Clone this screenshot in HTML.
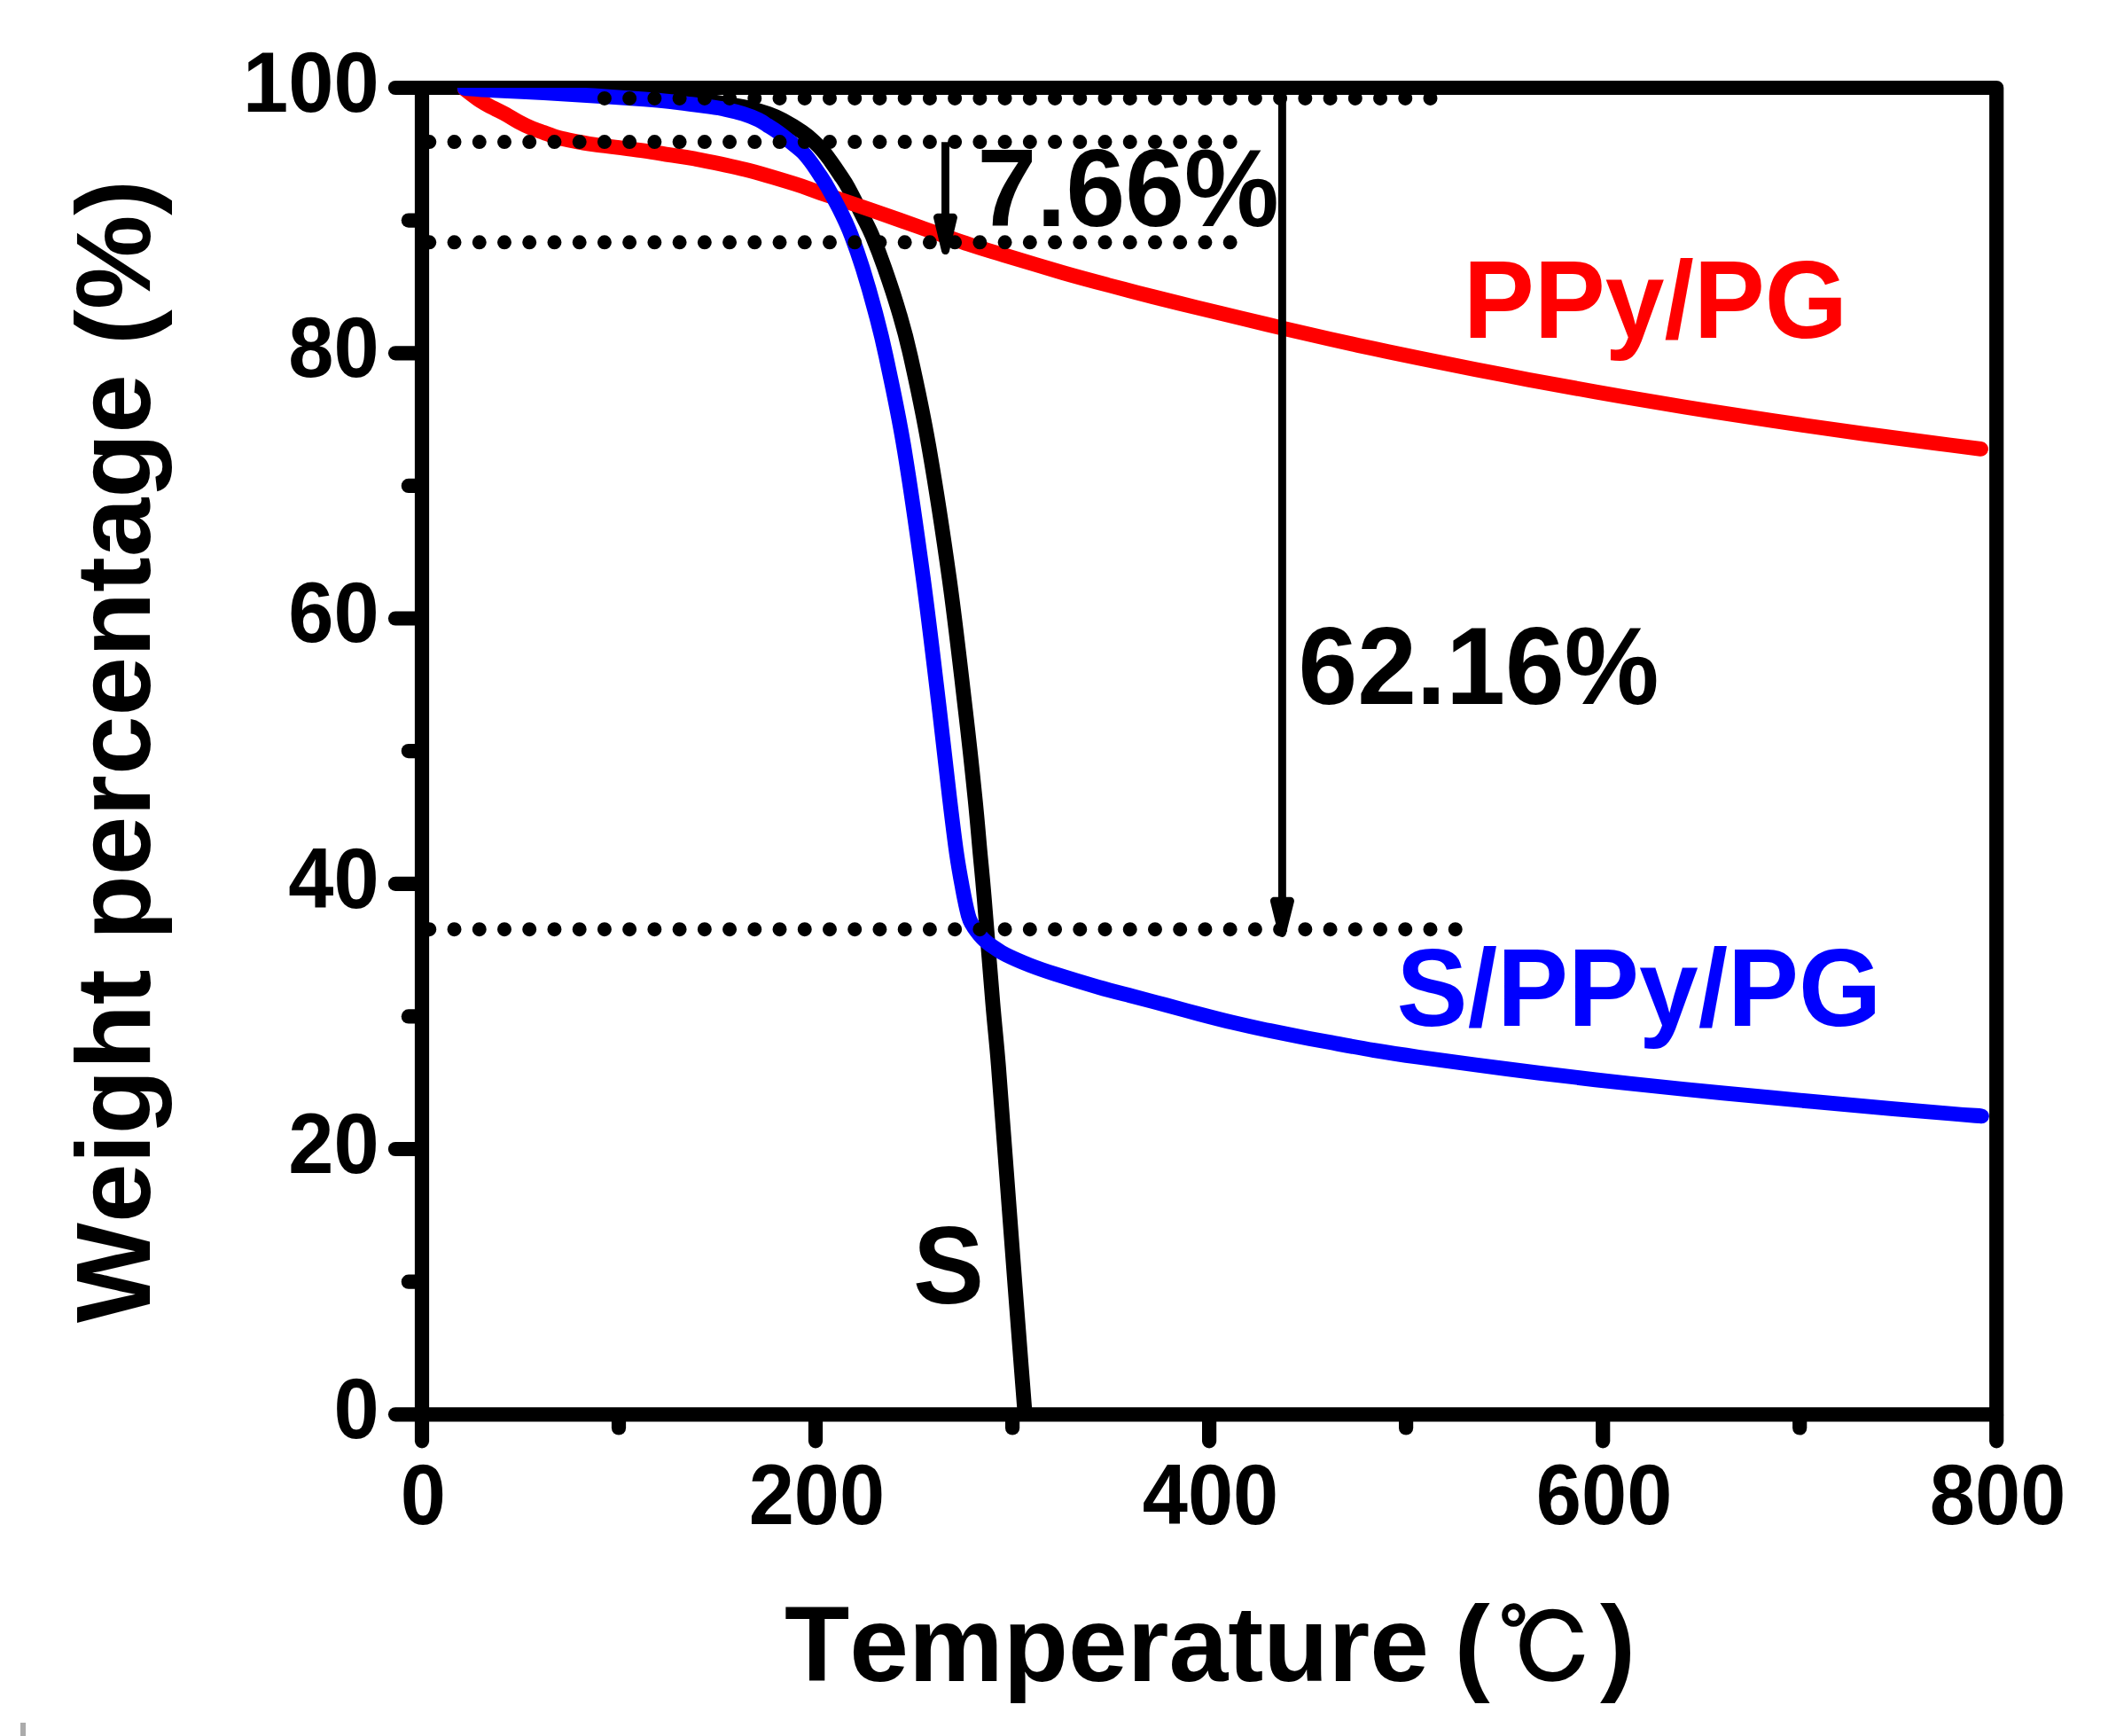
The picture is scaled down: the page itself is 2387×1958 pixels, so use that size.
<!DOCTYPE html>
<html lang="en">
<head>
<meta charset="utf-8">
<title>TGA curves</title>
<style>
html,body{margin:0;padding:0;background:#fff;}
body{width:2387px;height:1958px;overflow:hidden;}
svg{display:block;}
text{font-family:"Liberation Sans","Noto Serif CJK SC",sans-serif;font-weight:bold;font-kerning:none;}
.tk{font-size:92px;fill:#000;}
.big{font-size:120px;}
.ax{stroke:#000;stroke-width:16.2;stroke-linecap:round;fill:none;}
.cv{fill:none;stroke-width:16.8;stroke-linecap:round;stroke-linejoin:round;}
.dot{stroke:#000;stroke-width:16;stroke-linecap:round;stroke-dasharray:0 28.23;fill:none;}
.cjk{font-family:"IPAGothic","Noto Sans CJK JP",sans-serif;font-weight:normal;font-size:108px;stroke:#000;stroke-width:2.2px;}
</style>
</head>
<body>
<svg width="2387" height="1958" viewBox="0 0 2387 1958">
<rect x="0" y="0" width="2387" height="1958" fill="#fff"/>
<defs><clipPath id="plot"><rect x="476.0" y="99.0" width="1776.2" height="1496.3"/></clipPath></defs>

<g id="axes">
<rect x="476.0" y="99.0" width="1776.2" height="1496.3" class="ax" stroke-linejoin="round"/>
<line x1="446.0" y1="1595.3" x2="475.0" y2="1595.3" class="ax"/>
<line x1="460.8" y1="1445.7" x2="475.0" y2="1445.7" class="ax"/>
<line x1="446.0" y1="1296.0" x2="475.0" y2="1296.0" class="ax"/>
<line x1="460.8" y1="1146.4" x2="475.0" y2="1146.4" class="ax"/>
<line x1="446.0" y1="996.8" x2="475.0" y2="996.8" class="ax"/>
<line x1="460.8" y1="847.1" x2="475.0" y2="847.1" class="ax"/>
<line x1="446.0" y1="697.5" x2="475.0" y2="697.5" class="ax"/>
<line x1="460.8" y1="547.9" x2="475.0" y2="547.9" class="ax"/>
<line x1="446.0" y1="398.3" x2="475.0" y2="398.3" class="ax"/>
<line x1="460.8" y1="248.6" x2="475.0" y2="248.6" class="ax"/>
<line x1="446.0" y1="99.0" x2="475.0" y2="99.0" class="ax"/>
<line x1="476.0" y1="1596.3" x2="476.0" y2="1625.3" class="ax"/>
<line x1="698.0" y1="1596.3" x2="698.0" y2="1610.5" class="ax"/>
<line x1="920.0" y1="1596.3" x2="920.0" y2="1625.3" class="ax"/>
<line x1="1142.1" y1="1596.3" x2="1142.1" y2="1610.5" class="ax"/>
<line x1="1364.1" y1="1596.3" x2="1364.1" y2="1625.3" class="ax"/>
<line x1="1586.1" y1="1596.3" x2="1586.1" y2="1610.5" class="ax"/>
<line x1="1808.2" y1="1596.3" x2="1808.2" y2="1625.3" class="ax"/>
<line x1="2030.2" y1="1596.3" x2="2030.2" y2="1610.5" class="ax"/>
<line x1="2252.2" y1="1596.3" x2="2252.2" y2="1625.3" class="ax"/>
</g>
<g clip-path="url(#plot)">
<path class="cv" stroke="#000" d="M524.3 99.5C553.6 99.7 660.7 99.0 700.0 100.5C739.3 102.0 745.0 106.4 760.0 108.5C775.0 110.6 781.8 111.8 790.0 113.0C798.2 114.2 802.9 114.7 809.2 115.6C815.5 116.5 821.8 117.5 827.6 118.5C833.4 119.5 837.3 119.9 843.9 121.6C850.5 123.3 860.5 126.2 867.0 128.5C873.5 130.8 876.5 132.1 882.9 135.5C889.3 138.9 899.4 145.0 905.2 149.0C911.1 153.0 914.0 155.8 918.0 159.5C922.0 163.2 925.7 167.2 928.9 171.0C932.1 174.8 934.1 177.7 937.2 182.0C940.3 186.3 944.2 192.0 947.5 197.0C950.8 202.0 952.9 204.5 957.0 212.0C961.1 219.5 967.8 233.0 972.3 242.0C976.8 251.0 979.8 256.0 984.0 266.0C988.2 276.0 992.8 287.7 997.8 302.0C1002.8 316.3 1009.2 335.3 1014.1 352.0C1019.0 368.7 1021.6 377.0 1027.2 402.0C1032.8 427.0 1040.2 460.3 1047.5 502.0C1054.8 543.7 1063.8 602.0 1070.8 652.0C1077.8 702.0 1084.3 760.3 1089.2 802.0C1094.1 843.7 1097.4 875.3 1100.1 902.0C1102.8 928.7 1103.9 943.7 1105.6 962.0C1107.3 980.3 1107.8 983.8 1110.2 1012.0C1112.6 1040.2 1117.2 1099.5 1119.9 1131.2C1122.6 1162.9 1124.0 1173.2 1126.3 1202.0C1128.6 1230.8 1130.9 1262.5 1134.0 1304.0C1137.1 1345.5 1142.1 1411.5 1145.1 1451.2C1148.1 1490.9 1150.3 1519.2 1152.1 1542.0C1153.9 1564.8 1154.9 1577.3 1155.7 1588.0C1156.5 1598.7 1156.9 1603.0 1157.1 1606.0"/>
<path class="cv" stroke="#f00" d="M524.3 100.5C527.3 102.8 537.1 110.5 542.5 114.1C547.9 117.7 552.0 119.4 556.7 121.9C561.4 124.4 566.2 126.6 570.9 129.2C575.6 131.8 580.4 135.0 585.1 137.5C589.8 140.0 594.5 142.3 599.2 144.3C603.9 146.3 608.7 147.8 613.4 149.5C618.1 151.2 622.9 153.2 627.6 154.6C632.3 156.0 634.7 156.5 641.8 157.9C648.9 159.3 660.6 161.6 670.1 163.0C679.6 164.4 689.0 165.3 698.5 166.5C708.0 167.7 717.4 168.8 726.9 170.1C736.4 171.4 745.8 173.1 755.2 174.6C764.7 176.1 769.4 176.3 783.6 179.1C797.8 181.9 821.4 186.4 840.3 191.2C859.2 195.9 882.8 203.2 897.0 207.6C911.2 212.0 911.1 212.7 925.3 217.5C939.5 222.3 963.1 230.1 982.0 236.6C1000.9 243.1 1019.8 250.0 1038.7 256.6C1057.6 263.2 1079.9 271.2 1095.5 276.4C1111.1 281.6 1114.9 282.4 1132.3 287.6C1149.7 292.9 1180.4 302.2 1200.0 307.9C1219.6 313.5 1233.3 317.1 1250.0 321.5C1266.7 325.9 1283.3 330.3 1300.0 334.5C1316.7 338.7 1333.3 342.8 1350.0 346.8C1366.7 350.9 1383.3 354.8 1400.0 358.8C1416.7 362.8 1433.3 366.9 1450.0 370.8C1466.7 374.7 1483.3 378.6 1500.0 382.4C1516.7 386.1 1533.3 389.8 1550.0 393.3C1566.7 396.9 1575.0 398.6 1600.0 403.7C1625.0 408.8 1666.7 417.2 1700.0 423.6C1733.3 430.0 1766.7 436.1 1800.0 442.0C1833.3 447.9 1866.7 453.6 1900.0 459.0C1933.3 464.4 1966.7 469.5 2000.0 474.5C2033.3 479.5 2066.7 484.3 2100.0 488.9C2133.3 493.5 2177.6 499.1 2200.0 502.0C2222.4 504.9 2228.8 505.7 2234.5 506.4"/>
<path class="cv" stroke="#00f" d="M524.3 99.7C529.7 100.1 541.9 101.1 556.7 101.9C571.6 102.7 594.5 103.7 613.4 104.7C632.3 105.7 651.2 106.8 670.1 108.0C689.0 109.2 712.4 110.7 726.8 111.8C741.2 112.9 747.8 113.6 756.7 114.6C765.6 115.6 772.8 116.8 780.0 117.7C787.2 118.7 793.7 119.4 800.0 120.3C806.3 121.2 811.5 121.9 817.8 123.2C824.1 124.5 831.7 126.3 838.0 128.3C844.3 130.3 850.9 132.9 855.6 135.1C860.3 137.3 862.3 139.2 866.0 141.5C869.7 143.8 873.4 146.0 877.6 149.0C881.8 152.0 886.5 155.8 891.0 159.5C895.5 163.2 901.0 167.2 904.9 171.0C908.8 174.8 910.8 177.5 914.2 182.0C917.6 186.5 921.9 193.0 925.2 198.0C928.5 203.0 929.9 204.7 934.0 212.0C938.1 219.3 945.6 233.0 950.0 242.0C954.4 251.0 956.7 256.0 960.5 266.0C964.3 276.0 968.5 287.7 973.0 302.0C977.5 316.3 983.0 335.3 987.4 352.0C991.8 368.7 994.2 377.0 999.5 402.0C1004.8 427.0 1012.3 460.3 1019.3 502.0C1026.3 543.7 1034.6 602.0 1041.4 652.0C1048.2 702.0 1054.9 760.3 1059.9 802.0C1064.9 843.7 1068.2 875.3 1071.4 902.0C1074.6 928.7 1076.6 945.2 1079.0 962.0C1081.4 978.8 1083.7 990.8 1085.9 1002.6C1088.1 1014.4 1090.6 1026.1 1092.4 1032.8C1094.2 1039.5 1095.2 1040.0 1096.8 1042.9C1098.4 1045.8 1099.9 1047.9 1101.8 1050.4C1103.7 1053.0 1106.2 1056.0 1108.3 1058.2C1110.4 1060.4 1112.4 1062.1 1114.6 1063.8C1116.8 1065.5 1117.9 1066.2 1121.2 1068.4C1124.5 1070.6 1127.8 1073.4 1134.6 1076.8C1141.4 1080.2 1152.8 1085.2 1162.0 1088.8C1171.2 1092.4 1177.3 1094.5 1190.1 1098.6C1202.9 1102.7 1224.5 1109.2 1239.0 1113.3C1253.5 1117.4 1266.6 1120.7 1276.8 1123.4C1287.0 1126.1 1293.7 1127.8 1300.0 1129.5C1306.3 1131.2 1306.0 1131.1 1314.7 1133.4C1323.5 1135.8 1339.9 1140.3 1352.5 1143.6C1365.1 1146.9 1377.7 1150.2 1390.3 1153.2C1402.9 1156.2 1415.6 1159.0 1428.1 1161.6C1440.5 1164.2 1453.0 1166.7 1465.0 1169.0C1477.0 1171.3 1485.8 1173.0 1500.0 1175.6C1514.2 1178.2 1533.3 1181.8 1550.0 1184.6C1566.7 1187.4 1575.0 1188.7 1600.0 1192.2C1625.0 1195.7 1666.7 1201.3 1700.0 1205.6C1733.3 1209.9 1766.7 1214.0 1800.0 1217.8C1833.3 1221.6 1866.7 1225.1 1900.0 1228.5C1933.3 1231.9 1966.7 1235.0 2000.0 1238.2C2033.3 1241.4 2066.7 1244.4 2100.0 1247.4C2133.3 1250.4 2177.4 1254.1 2200.0 1256.0C2222.6 1257.9 2229.6 1258.3 2235.5 1258.8"/>
</g>
<g id="dots">
<line x1="681.91" y1="110.9" x2="1614.00" y2="110.9" class="dot"/>
<line x1="484.30" y1="160.1" x2="1388.16" y2="160.1" class="dot"/>
<line x1="484.30" y1="273.3" x2="1388.16" y2="273.3" class="dot"/>
<line x1="484.30" y1="1048.2" x2="1642.23" y2="1048.2" class="dot"/>
</g>
<g id="arrows">
<line x1="1066.5" y1="160.2" x2="1066.5" y2="245.3" stroke="#000" stroke-width="8.9"/><path d="M1057.5 245.3 L1075.5 245.3 L1066.5 282.6 Z" fill="#000" stroke="#000" stroke-width="8.9" stroke-linejoin="round"/>
<line x1="1446.4" y1="108.0" x2="1446.4" y2="1016.1" stroke="#000" stroke-width="8.9"/><path d="M1437.4 1016.1 L1455.5 1016.1 L1446.4 1052.5 Z" fill="#000" stroke="#000" stroke-width="8.9" stroke-linejoin="round"/>
</g>
<g id="ylabels">
<text class="tk" transform="translate(427.6 1622.0) scale(1 1.040)" fill="#000" text-anchor="end">0</text>
<text class="tk" transform="translate(427.6 1322.7) scale(1 1.040)" fill="#000" text-anchor="end">20</text>
<text class="tk" transform="translate(427.6 1023.5) scale(1 1.040)" fill="#000" text-anchor="end">40</text>
<text class="tk" transform="translate(427.6 724.2) scale(1 1.040)" fill="#000" text-anchor="end">60</text>
<text class="tk" transform="translate(427.6 425.0) scale(1 1.040)" fill="#000" text-anchor="end">80</text>
<text class="tk" transform="translate(427.6 125.7) scale(1 1.040)" fill="#000" text-anchor="end">100</text>
</g>
<g id="xlabels">
<text class="tk" transform="translate(477.4 1719.2) scale(1 1.040)" fill="#000" text-anchor="middle">0</text>
<text class="tk" transform="translate(921.4 1719.2) scale(1 1.040)" fill="#000" text-anchor="middle">200</text>
<text class="tk" transform="translate(1365.5 1719.2) scale(1 1.040)" fill="#000" text-anchor="middle">400</text>
<text class="tk" transform="translate(1809.6 1719.2) scale(1 1.040)" fill="#000" text-anchor="middle">600</text>
<text class="tk" transform="translate(2253.6 1719.2) scale(1 1.040)" fill="#000" text-anchor="middle">800</text>
</g>
<text class="big" transform="translate(1102.5 255.4) scale(1 1.040)" fill="#000">7.66%</text>
<text class="big" transform="translate(1464.4 794.0) scale(1 1.040)" fill="#000">62.16%</text>
<text class="big" transform="translate(1650.7 381.0) scale(1 1.040)" fill="#f00">PPy/PG</text>
<text class="big" transform="translate(1575.6 1157.1) scale(1 1.040)" fill="#00f">S/PPy/PG</text>
<text class="big" transform="translate(1030.0 1469.6) scale(1 1.040)" fill="#000">S</text>
<text class="big" x="885" y="1895.7" fill="#000">Temperature <tspan x="1640.8">(</tspan><tspan class="cjk" x="1689.7" y="1899.2">℃</tspan><tspan x="1805" y="1895.7">)</tspan></text>
<text class="big" style="font-size:119.6px" transform="translate(168.9 1492) rotate(-90)" fill="#000">Weight percentage (%)</text>
<rect x="23" y="1943" width="6" height="15" fill="#ababab"/>
</svg>
</body>
</html>
